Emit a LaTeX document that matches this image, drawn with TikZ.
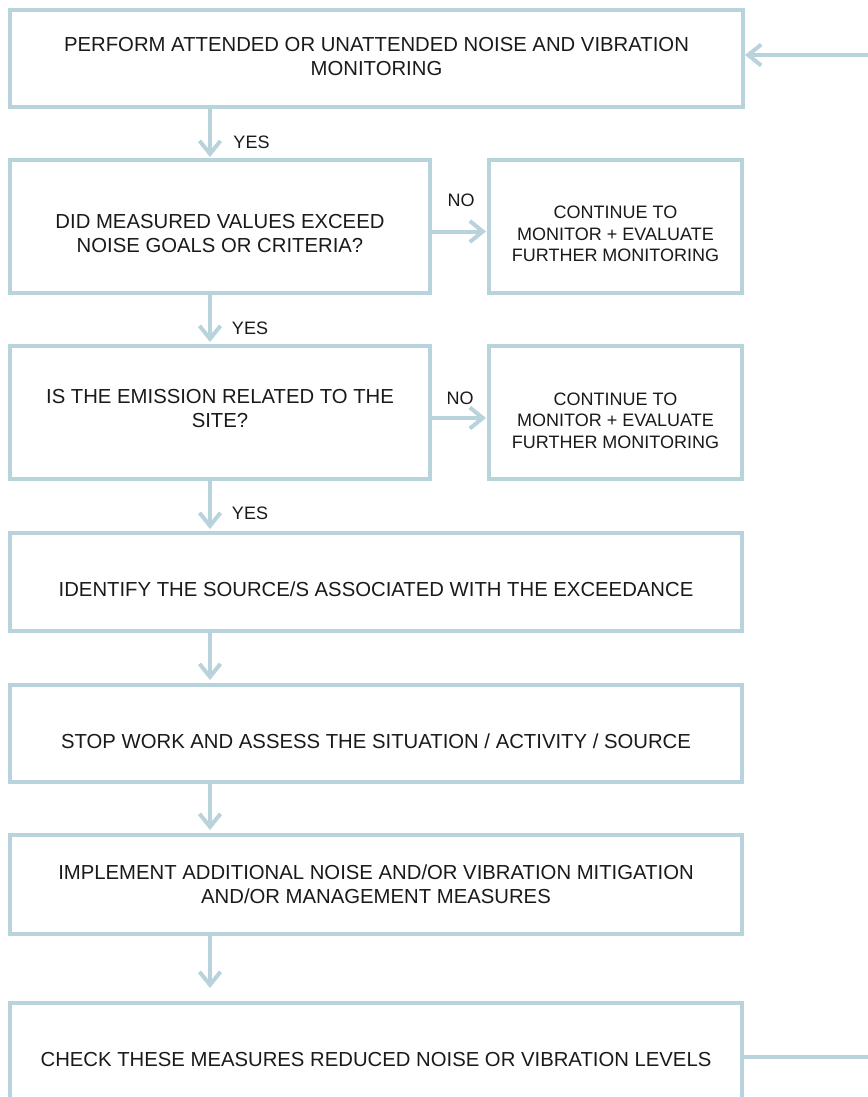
\documentclass[tikz,border=0pt]{standalone}
\usepackage{fontspec}
\setmainfont{Liberation Sans}
\usetikzlibrary{arrows.meta}
\definecolor{boxblue}{HTML}{B9D3DD}
\definecolor{txt}{HTML}{1A1A1A}
\tikzset{
  flowbox/.style={draw=boxblue, line width=4pt, rectangle, inner sep=0pt, fill=none},
  maintext/.style={text=txt, inner sep=0pt, align=center, font=\fontsize{20.3}{24}\selectfont},
  smalltext/.style={text=txt, inner sep=0pt, align=center, font=\fontsize{18}{21.5}\selectfont},
  lbl/.style={text=txt, inner sep=0pt, font=\fontsize{18}{21.5}\selectfont},
  flowarrow/.style={draw=boxblue, line width=4pt, -{Straight Barb[length=13pt,width=21pt,line width=4pt]}},
  flowline/.style={draw=boxblue, line width=4pt}
}
\begin{document}
\begin{tikzpicture}[x=1pt,y=-1pt]
\useasboundingbox (0,0) rectangle (867,1097);
\fill[white] (0,0) rectangle (867,1097);
\coordinate (axis) at (210,0);
% boxes
\node[flowbox, minimum width=733pt, minimum height=97pt] (b1) at (376.5,58.5) {};
\node[flowbox, minimum width=420pt, minimum height=133pt] (b2) at (220,226.5) {};
\node[flowbox, minimum width=253pt, minimum height=133pt] (b3) at (615.5,226.5) {};
\node[flowbox, minimum width=420pt, minimum height=133pt] (b4) at (220,412.5) {};
\node[flowbox, minimum width=253pt, minimum height=133pt] (b5) at (615.5,412.5) {};
\node[flowbox, minimum width=732pt, minimum height=98pt] (b6) at (376,582) {};
\node[flowbox, minimum width=732pt, minimum height=97pt] (b7) at (376,733.5) {};
\node[flowbox, minimum width=732pt, minimum height=99pt] (b8) at (376,884.5) {};
\node[flowbox, minimum width=732pt, minimum height=107pt] (b9) at (376,1056.5) {};
% texts
\node[maintext] (t1) at (376.5,57) {PERFORM ATTENDED OR UNATTENDED NOISE AND VIBRATION\\MONITORING};
\node[maintext] (t2) at (220,234) {DID MEASURED VALUES EXCEED\\NOISE GOALS OR CRITERIA?};
\node[smalltext] (t3) at (615.5,234) {CONTINUE TO\\MONITOR + EVALUATE\\FURTHER MONITORING};
\node[maintext] (t4) at (220,408.5) {IS THE EMISSION RELATED TO THE\\SITE?};
\node[smalltext] (t5) at (615.5,420.5) {CONTINUE TO\\MONITOR + EVALUATE\\FURTHER MONITORING};
\node[maintext] (t6) at (376,589) {IDENTIFY THE SOURCE/S ASSOCIATED WITH THE EXCEEDANCE};
\node[maintext] (t7) at (376,741.5) {STOP WORK AND ASSESS THE SITUATION / ACTIVITY / SOURCE};
\node[maintext] (t8) at (376,884.5) {IMPLEMENT ADDITIONAL NOISE AND/OR VIBRATION MITIGATION\\AND/OR MANAGEMENT MEASURES};
\node[maintext] (t9) at (376,1059) {CHECK THESE MEASURES REDUCED NOISE OR VIBRATION LEVELS};
% labels
\node[lbl] (yes1) at (251.5,142) {YES};
\node[lbl] (yes2) at (250,328) {YES};
\node[lbl] (yes3) at (250,513) {YES};
\node[lbl] (no1) at (461,200) {NO};
\node[lbl] (no2) at (460,398) {NO};
% vertical arrows
\draw[flowarrow, shorten >=1pt] (b1.south -| axis) -- (b2.north -| axis);
\draw[flowarrow, shorten >=2pt] (b2.south -| axis) -- (b4.north -| axis);
\draw[flowarrow, shorten >=2pt] (b4.south -| axis) -- (b6.north -| axis);
\draw[flowarrow, shorten >=3pt] (b6.south -| axis) -- (b7.north -| axis);
\draw[flowarrow, shorten >=3pt] (b7.south -| axis) -- (b8.north -| axis);
\draw[flowarrow, shorten >=13pt] (b8.south -| axis) -- (b9.north -| axis);
% NO arrows
\draw[flowarrow, shorten >=1pt] ([yshift=-5pt]b2.east) -- ([yshift=-5pt]b3.west);
\draw[flowarrow, shorten >=1pt] ([yshift=-5.5pt]b4.east) -- ([yshift=-5.5pt]b5.west);
% feedback loop
\coordinate (fbBot) at (900,1056.5);
\coordinate (fbTop) at (900,55);
\draw[flowarrow] (b9.east) -- (fbBot) -- (fbTop) -- (b1.east |- fbTop);
\end{tikzpicture}
\end{document}
